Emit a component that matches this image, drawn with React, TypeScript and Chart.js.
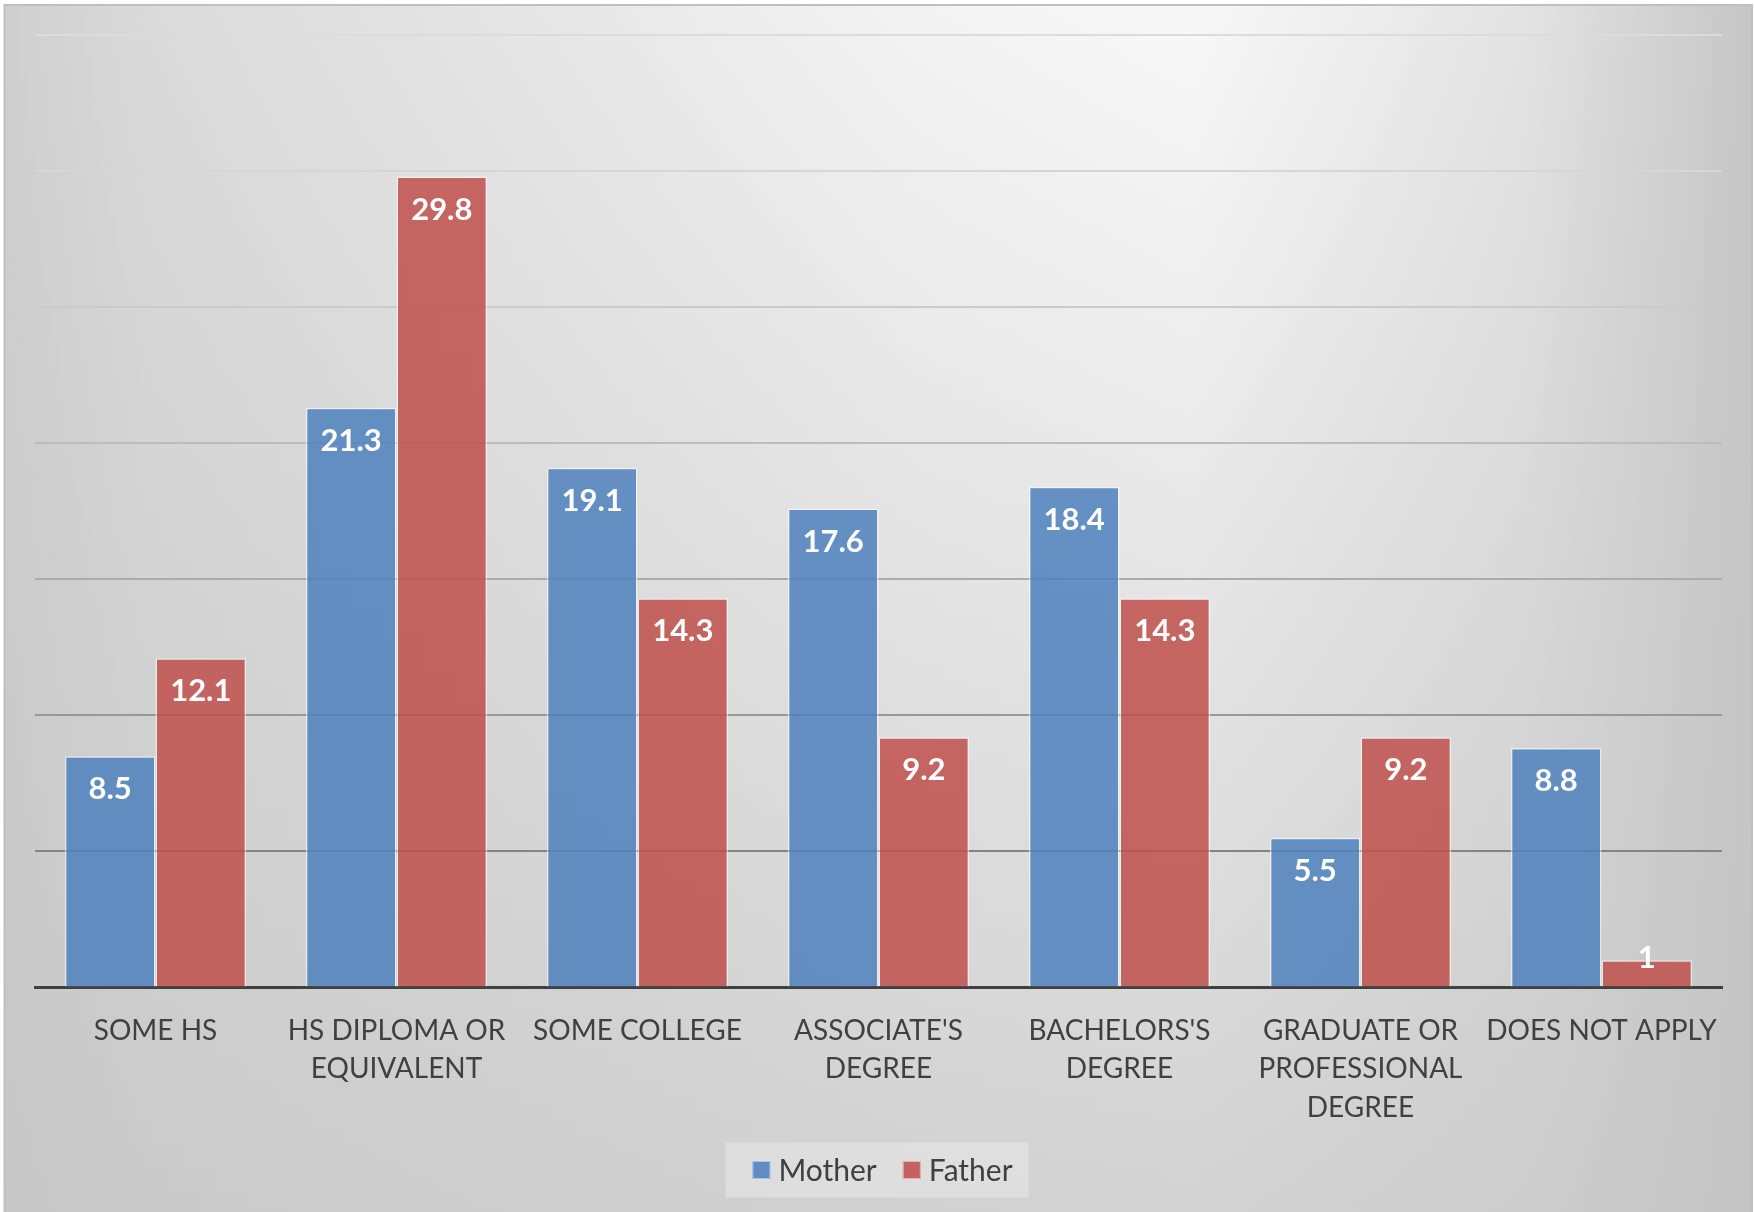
import React, { useEffect, useRef } from 'react';
import { Chart, registerables } from 'chart.js';

Chart.register(...registerables);

// ---- data ----
const categories: string[][] = [
  ['SOME HS'],
  ['HS DIPLOMA OR', 'EQUIVALENT'],
  ['SOME COLLEGE'],
  ["ASSOCIATE'S", 'DEGREE'],
  ["BACHELORS'S", 'DEGREE'],
  ['GRADUATE OR', 'PROFESSIONAL', 'DEGREE'],
  ['DOES NOT APPLY'],
];
const seriesNames = ['Mother', 'Father'];
const motherValues = [8.5, 21.3, 19.1, 17.6, 18.4, 5.5, 8.8];
const fatherValues = [12.1, 29.8, 14.3, 9.2, 14.3, 9.2, 1];
const yMin = 0;
const yMax = 35;
const yStep = 5;

// ---- styles ----
const W = 1754;
const H = 1212;
const FONT = 'Lato, "Open Sans", sans-serif';
const TEXT = '#404040';
const seriesFill = ['rgba(79,129,189,0.86)', 'rgba(192,80,77,0.86)'];
const seriesSolid = ['#5f8cc2', '#c3625f'];
const gridShades: Record<number, string> = {
  0: 'rgba(0,0,0,0)',
  5: '#848484',
  10: '#989898',
  15: '#ababab',
  20: '#bcbcbc',
  25: '#cbcbcb',
  30: '#d6d6d6',
  35: '#dcdcdc',
};

const backgroundPlugin = {
  id: 'bgPanel',
  beforeDraw(chart: any) {
    const ctx = chart.ctx as CanvasRenderingContext2D;
    const x0 = 4.5, y0 = 5, x1 = 1752, y1 = H;
    ctx.save();
    ctx.fillStyle = '#ffffff';
    ctx.fillRect(0, 0, chart.width, chart.height);
    const hg = ctx.createLinearGradient(x0, 0, x1, 0);
    hg.addColorStop(0, '#cfcfcf');
    hg.addColorStop(0.08, '#dadada');
    hg.addColorStop(0.3, '#e6e6e6');
    hg.addColorStop(0.52, '#f3f3f3');
    hg.addColorStop(0.68, '#f8f8f8');
    hg.addColorStop(0.87, '#e3e3e3');
    hg.addColorStop(1, '#c6c6c6');
    ctx.fillStyle = hg;
    ctx.fillRect(x0, y0, x1 - x0, y1 - y0);
    const vg = ctx.createLinearGradient(0, y0, 0, y1);
    vg.addColorStop(0, 'rgba(196,196,196,0)');
    vg.addColorStop(1, 'rgba(196,196,196,0.72)');
    ctx.fillStyle = vg;
    ctx.fillRect(x0, y0, x1 - x0, y1 - y0);
    ctx.strokeStyle = '#bfbfbf';
    ctx.lineWidth = 2;
    ctx.beginPath();
    ctx.moveTo(x0, y1);
    ctx.lineTo(x0, y0);
    ctx.lineTo(x1, y0);
    ctx.lineTo(x1, y1);
    ctx.stroke();
    ctx.restore();
  },
};

const valueLabelPlugin = {
  id: 'valueLabels',
  afterDatasetsDraw(chart: any) {
    const ctx = chart.ctx as CanvasRenderingContext2D;
    ctx.save();
    ctx.fillStyle = '#ffffff';
    ctx.font = `bold 31px ${FONT}`;
    ctx.textAlign = 'center';
    ctx.textBaseline = 'middle';
    chart.data.datasets.forEach((ds: any, i: number) => {
      const meta = chart.getDatasetMeta(i);
      meta.data.forEach((bar: any, j: number) => {
        const p = bar.getProps(['x', 'y', 'base'], true);
        const ty = Math.min(p.y + 32, p.base - 30);
        ctx.fillText(String(ds.data[j]), p.x, ty + 1);
      });
    });
    ctx.restore();
  },
};

const legendPlugin = {
  id: 'panelLegend',
  afterDraw(chart: any) {
    const ctx = chart.ctx as CanvasRenderingContext2D;
    const datasets = chart.data.datasets;
    ctx.save();
    ctx.font = `30px ${FONT}`;
    const box = 18, gapText = 8, gapItem = 26, padL = 27, padR = 16;
    const widths = datasets.map((d: any) => ctx.measureText(d.label).width);
    const content = widths.reduce((a: number, w: number) => a + box + gapText + w, 0) + gapItem * (datasets.length - 1);
    const bw = content + padL + padR;
    const bh = 55;
    const cy = 1170;
    const bx = chart.width / 2 - bw / 2;
    ctx.fillStyle = 'rgba(255,255,255,0.28)';
    ctx.fillRect(bx, cy - bh / 2, bw, bh);
    let x = bx + padL;
    datasets.forEach((d: any, i: number) => {
      ctx.fillStyle = seriesSolid[i];
      ctx.fillRect(x, cy - box / 2, box, box);
      ctx.strokeStyle = 'rgba(255,255,255,0.5)';
      ctx.lineWidth = 1;
      ctx.strokeRect(x + 0.5, cy - box / 2 + 0.5, box - 1, box - 1);
      x += box + gapText;
      ctx.fillStyle = TEXT;
      ctx.textAlign = 'left';
      ctx.textBaseline = 'middle';
      ctx.fillText(d.label, x, cy + 1);
      x += widths[i] + gapItem;
    });
    ctx.restore();
  },
};

export default function App() {
  const ref = useRef<HTMLCanvasElement | null>(null);

  useEffect(() => {
    document.body.style.margin = '0';
    const canvas = ref.current;
    if (!canvas) return;
    const chart = new Chart(canvas, {
      type: 'bar',
      data: {
        labels: categories,
        datasets: [
          {
            label: seriesNames[0],
            data: motherValues,
            backgroundColor: seriesFill[0],
            borderColor: 'rgba(255,255,255,0.55)',
            borderWidth: 1.5,
            categoryPercentage: 0.752,
            barPercentage: 1,
          },
          {
            label: seriesNames[1],
            data: fatherValues,
            backgroundColor: seriesFill[1],
            borderColor: 'rgba(255,255,255,0.55)',
            borderWidth: 1.5,
            categoryPercentage: 0.752,
            barPercentage: 1,
          },
        ],
      },
      options: {
        responsive: false,
        animation: false,
        devicePixelRatio: 1,
        layout: { padding: { left: 35, right: 32, top: 35, bottom: 0 } },
        plugins: {
          legend: { display: false },
          tooltip: { enabled: false },
          title: { display: false },
        },
        scales: {
          x: {
            grid: { display: false, drawTicks: false },
            border: { display: true, color: '#404040', width: 3 },
            ticks: {
              color: TEXT,
              font: { family: FONT, size: 28, lineHeight: 1.375 },
              padding: 24,
              autoSkip: false,
              maxRotation: 0,
              minRotation: 0,
            },
            afterFit(scale: any) {
              scale.height = 224.5;
            },
          },
          y: {
            min: yMin,
            max: yMax,
            ticks: { display: false, stepSize: yStep },
            border: { display: false },
            grid: {
              drawTicks: false,
              lineWidth: 2,
              color: (c: any) => gridShades[c.tick?.value] ?? '#bbbbbb',
            },
            afterFit(scale: any) {
              scale.width = 0;
            },
          },
        },
      },
      plugins: [backgroundPlugin, valueLabelPlugin, legendPlugin],
    });
    return () => chart.destroy();
  }, []);

  return (
    <div style={{ width: W, height: H }}>
      <canvas ref={ref} width={W} height={H} style={{ display: 'block', width: W, height: H }} />
    </div>
  );
}
